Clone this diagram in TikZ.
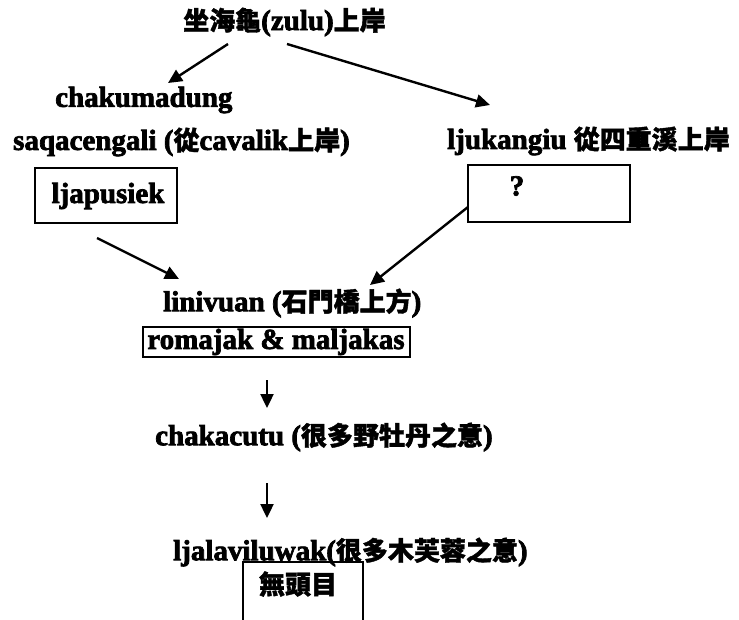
\documentclass[tikz,border=0pt]{standalone}
\usepackage{fontspec}
\setmainfont{Liberation Serif}[BoldFeatures={FakeBold=2.5}]
\newfontfamily\cjk{Noto Sans CJK TC}[BoldFeatures={FakeBold=1.5}]
\newcommand\zh[1]{{\cjk\bfseries\fontsize{26}{30}\selectfont #1}}
\usetikzlibrary{arrows.meta}
\begin{document}
\begin{tikzpicture}[x=1pt,y=-1pt,
  every node/.style={font=\fontsize{29}{34}\selectfont\bfseries, inner sep=0pt},
  lbl/.style={anchor=west},
  boxed/.style={draw, line width=1.8pt},
  arr/.style={line width=2.4pt, -{Triangle[length=14pt,width=13pt]}}]
\useasboundingbox (0,0) rectangle (739,620);
\node[lbl] (title) at (183,22) {\zh{坐海龜}(zulu)\zh{上岸}};
\node[lbl] (chak) at (55,100) {chakumadung};
\node[lbl] (saqa) at (13,142) {saqacengali (\zh{從}cavalik\zh{上岸})};
\node[lbl] (ljuk) at (447,141) {ljukangiu \zh{從四重溪上岸}};
\draw[boxed] (35,168) rectangle (177,223);
\node (ljap) at (108,196) {ljapusiek};
\draw[boxed] (468,165) rectangle (630,222);
\node (q) at (517,186) {?};
\node[lbl] (liniv) at (163,303) {linivuan (\zh{石門橋上方})};
\draw[boxed] (143,327) rectangle (410,357);
\node (roma) at (276,342) {romajak \& maljakas};
\node[lbl] (chakac) at (155,437) {chakacutu (\zh{很多野牡丹之意})};
\node[lbl] (ljal) at (173,552) {ljalaviluwak(\zh{很多木芙蓉之意})};
\draw[boxed] (243,625) -- (243,562) -- (363,562) -- (363,625);
\node (wu) at (298,584) {\zh{無頭目}};
\coordinate (a1s) at (228,44); \coordinate (a1e) at (168,83);
\coordinate (a2s) at (287,44); \coordinate (a2e) at (490,105);
\coordinate (a3s) at (97,238); \coordinate (a3e) at (179,279);
\coordinate (a4s) at (468,207); \coordinate (a4e) at (370,285);
\coordinate (a5s) at (267,380); \coordinate (a5e) at (267,408);
\coordinate (a6s) at (267,483); \coordinate (a6e) at (267,518);
\draw[arr] (a1s) -- (a1e);
\draw[arr] (a2s) -- (a2e);
\draw[arr] (a3s) -- (a3e);
\draw[arr] (a4s) -- (a4e);
\draw[arr] (a5s) -- (a5e);
\draw[arr] (a6s) -- (a6e);
\end{tikzpicture}
\end{document}
